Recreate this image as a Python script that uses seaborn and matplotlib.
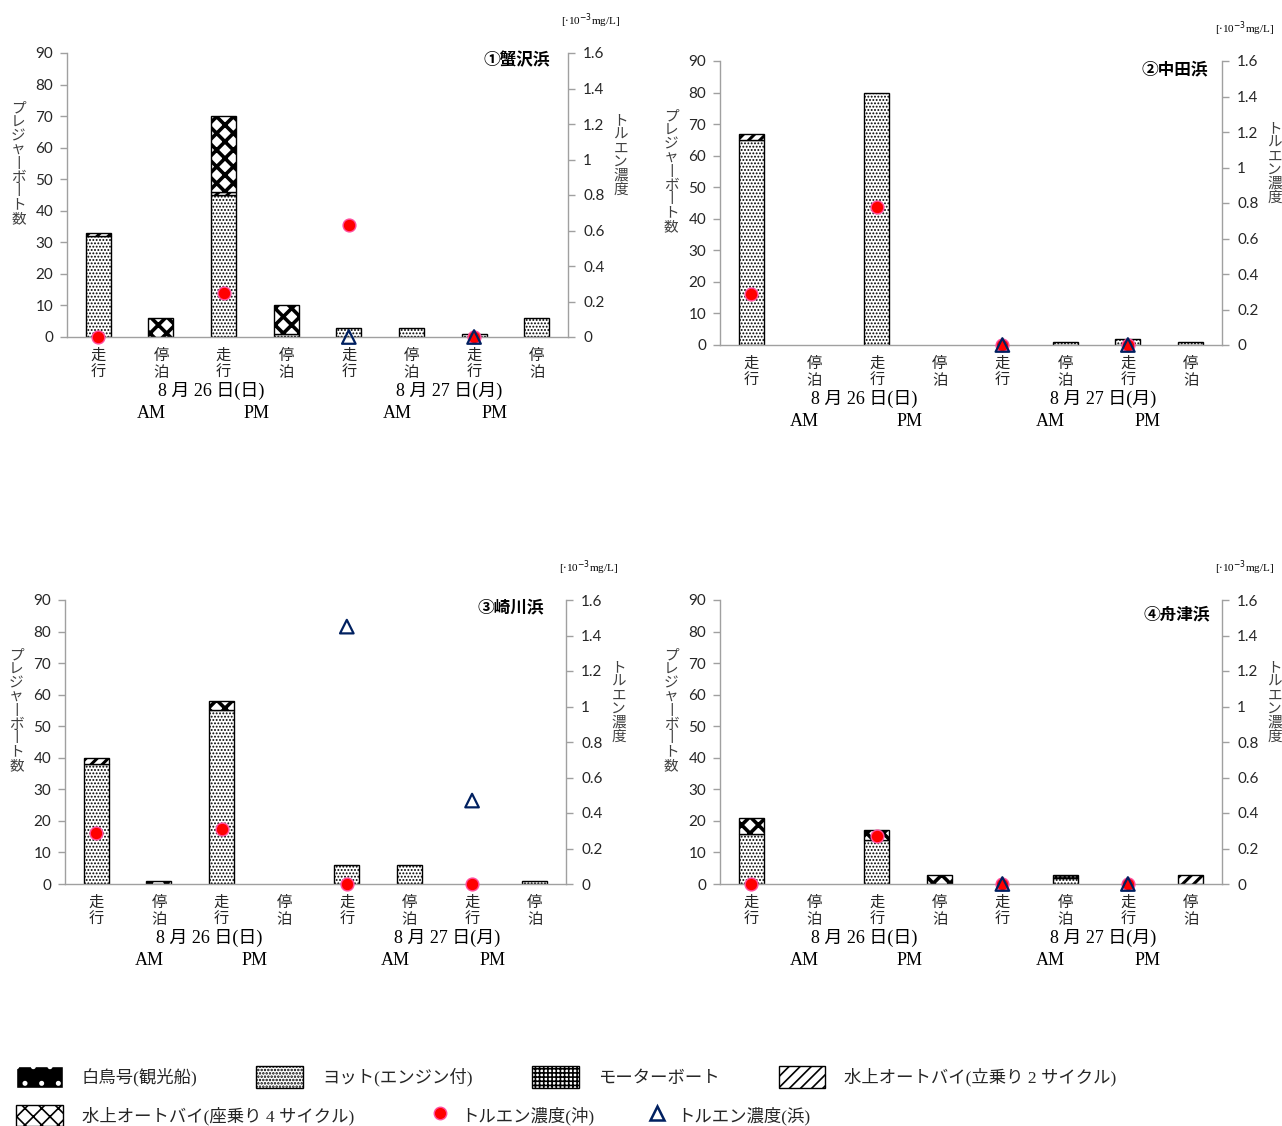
import numpy as np
import matplotlib
matplotlib.use("Agg")
import matplotlib.pyplot as plt
import matplotlib.patches as mpatches
from matplotlib.lines import Line2D
from matplotlib.transforms import blended_transform_factory
from matplotlib.ticker import FuncFormatter
import seaborn as sns

nan = np.nan

# ---------------- data ----------------
PANELS = ["①蟹沢浜", "②中田浜", "③崎川浜", "④舟津浜"]
POS = [0, 1, 2, 3, 4, 5, 6, 7]
XLABELS = ["走\n行", "停\n泊", "走\n行", "停\n泊", "走\n行", "停\n泊", "走\n行", "停\n泊"]
DATES = ["8 月 26 日(日)", "8 月 27 日(月)"]
HALVES = ["AM", "PM", "AM", "PM"]
SERIES = ["白鳥号(観光船)", "ヨット(エンジン付)", "モーターボート",
          "水上オートバイ(立乗り 2 サイクル)", "水上オートバイ(座乗り 4 サイクル)"]
TOL_NAMES = ["トルエン濃度(沖)", "トルエン濃度(浜)"]

HAKUCHO = [[0, 0, 0, 0, 0, 0, 0, 0],
           [0, 0, 0, 0, 0, 0, 0, 0],
           [0, 0, 0, 0, 0, 0, 0, 0],
           [0, 0, 0, 0, 0, 0, 0, 0]]
YACHT = [[32, 0, 45, 1, 3, 3, 1, 6],
         [65, 0, 80, 0, 0, 1, 2, 1],
         [38, 0, 55, 0, 6, 6, 0, 1],
         [16, 0, 14, 0, 0, 2, 0, 0]]
MOTOR = [[0, 0, 0, 0, 0, 0, 0, 0],
         [0, 0, 0, 0, 0, 0, 0, 0],
         [0, 0, 0, 0, 0, 0, 0, 0],
         [0, 0, 0, 0, 0, 1, 0, 0]]
JET2 = [[1, 0, 1, 0, 0, 0, 0, 0],
        [2, 0, 0, 0, 0, 0, 0, 0],
        [2, 0, 0, 0, 0, 0, 0, 0],
        [0, 0, 0, 0, 0, 0, 0, 3]]
JET4 = [[0, 6, 24, 9, 0, 0, 0, 0],
        [0, 0, 0, 0, 0, 0, 0, 0],
        [0, 1, 3, 0, 0, 0, 0, 0],
        [5, 0, 3, 3, 0, 0, 0, 0]]

TOL_OKI = [[0.0, nan, 0.25, nan, 0.63, nan, 0.0, nan],
           [0.29, nan, 0.78, nan, 0.0, nan, 0.0, nan],
           [0.29, nan, 0.31, nan, 0.0, nan, 0.0, nan],
           [0.0, nan, 0.27, nan, 0.0, nan, 0.0, nan]]
TOL_HAMA = [[nan, nan, nan, nan, 0.0, nan, 0.0, nan],
            [nan, nan, nan, nan, 0.0, nan, 0.0, nan],
            [nan, nan, nan, nan, 1.45, nan, 0.47, nan],
            [nan, nan, nan, nan, 0.0, nan, 0.0, nan]]

LEFT_TICKS = [0, 10, 20, 30, 40, 50, 60, 70, 80, 90]
RIGHT_TICKS = [0, 0.2, 0.4, 0.6, 0.8, 1.0, 1.2, 1.4, 1.6]

# ---------------- style ----------------
sns.set_style("white")
plt.rcParams["font.family"] = ["Noto Sans CJK JP", "DejaVu Sans"]
plt.rcParams["hatch.linewidth"] = 1.2
SANS_NUM = ["Lato", "Noto Sans CJK JP"]
SERIF = ["Liberation Serif", "Noto Sans CJK JP"]
GRAY = "#a0a0a0"
TXT = "#262626"

FACES = ["black", "white", "white", "white", "white"]
EDGES = ["white", "black", "black", "black", "black"]
HATCHES = [".", ".....", "++++", "///", "xx"]
HATCH_LW = [0.8, 0.9, 1.0, 2.2, 2.6]

RECTS = [[67 / 1282, 1 - 337 / 1126, 501 / 1282, 284 / 1126],
         [720 / 1282, 1 - 345 / 1126, 502 / 1282, 284 / 1126],
         [65 / 1282, 1 - 884 / 1126, 501 / 1282, 284 / 1126],
         [720 / 1282, 1 - 884 / 1126, 502 / 1282, 284 / 1126]]
TITLE_POS = [(0.964, 0.975), (0.972, 0.972), (0.956, 0.975), (0.976, 0.951)]


def set_hlw(patch, lw):
    if hasattr(patch, "set_hatch_linewidth"):
        patch.set_hatch_linewidth(lw)


fig = plt.figure(figsize=(12.82, 11.26), dpi=100)

for i in range(4):
    ax = fig.add_axes(RECTS[i])
    series_vals = [HAKUCHO[i], YACHT[i], MOTOR[i], JET2[i], JET4[i]]
    bottom = np.zeros(len(POS))
    for s, vals in enumerate(series_vals):
        n_before = len(ax.patches)
        sns.barplot(x=POS, y=vals, ax=ax, bottom=bottom.copy(), color=FACES[s],
                    saturation=1, width=0.4, edgecolor=EDGES[s], linewidth=1.0,
                    hatch=HATCHES[s], errorbar=None)
        for p in ax.patches[n_before:]:
            set_hlw(p, HATCH_LW[s])
        bottom += np.asarray(vals, dtype=float)
    for p in ax.patches:
        if p.get_height() == 0:
            p.set_visible(False)

    ax.set_ylim(0, 90)
    ax.set_xlim(-0.5, 7.5)
    ax.set_yticks(LEFT_TICKS)
    ax.set_xticks(POS)
    ax.set_xticklabels(XLABELS, fontsize=11, linespacing=1.0, color=TXT)
    ax.set_xticks([p - 0.5 for p in POS] + [7.5], minor=True)
    ax.tick_params(axis="x", which="major", length=0, pad=7)
    ax.tick_params(axis="x", which="minor", length=5, color=GRAY, width=1, direction="out")
    ax.tick_params(axis="y", length=5, color=GRAY, width=1, direction="out", pad=5,
                   labelsize=11, labelcolor=TXT)
    for lab in ax.get_yticklabels():
        lab.set_family(SANS_NUM)
    ax.set_xlabel("")
    ax.set_ylabel("")
    for side in ["top", "right"]:
        ax.spines[side].set_visible(False)
    for side in ["left", "bottom"]:
        ax.spines[side].set_color(GRAY)
        ax.spines[side].set_linewidth(1)

    # right axis: toluene
    ax2 = ax.twinx()
    oki_x = [p for p, v in zip(POS, TOL_OKI[i]) if not np.isnan(v)]
    oki_y = [v for v in TOL_OKI[i] if not np.isnan(v)]
    sns.scatterplot(x=oki_x, y=oki_y, ax=ax2, marker="o", s=85, color="#ff0000",
                    edgecolor="#ff4fa0", linewidth=1.0, zorder=5, clip_on=False, legend=False)
    ham_x = [p for p, v in zip(POS, TOL_HAMA[i]) if not np.isnan(v)]
    ham_y = [v for v in TOL_HAMA[i] if not np.isnan(v)]
    sns.scatterplot(x=ham_x, y=ham_y, ax=ax2, marker="^", s=95, color="#002060",
                    facecolor="none", edgecolor="#002060", linewidth=1.6, zorder=6,
                    clip_on=False, legend=False)
    ax2.collections[-1].set_facecolor("none")
    ax2.collections[-1].set_edgecolor("#002060")
    ax2.set_ylim(0, 1.6)
    ax2.set_xlim(-0.5, 7.5)
    ax2.set_yticks(RIGHT_TICKS)
    ax2.yaxis.set_major_formatter(FuncFormatter(lambda v, _: f"{v:g}"))
    ax2.tick_params(axis="y", length=5, color=GRAY, width=1, direction="out", pad=6,
                    labelsize=11, labelcolor=TXT)
    for lab in ax2.get_yticklabels():
        lab.set_family(SANS_NUM)
    ax2.set_xlabel("")
    ax2.set_ylabel("")
    for side in ["top", "left", "bottom"]:
        ax2.spines[side].set_visible(False)
    ax2.spines["right"].set_color(GRAY)
    ax2.spines["right"].set_linewidth(1)

    # texts
    tx, ty = TITLE_POS[i]
    ax.text(tx, ty, PANELS[i], transform=ax.transAxes, ha="right", va="center",
            fontsize=12, fontweight="bold", color="black")
    ax.text(-0.097, 0.61, "\n".join("プレジャ丨ボ丨ト数"), transform=ax.transAxes,
            ha="center", va="center", fontsize=10.5, linespacing=0.98, color="#404040")
    ax.text(1.105, 0.64, "\n".join("トルエン濃度"), transform=ax.transAxes,
            ha="center", va="center", fontsize=10.5, linespacing=0.98, color="#404040")
    ax.text(1.045, 1.115, r"[$\cdot$10$^{-3}$mg/L]", transform=ax.transAxes,
            ha="center", va="center", fontsize=8, family=SERIF, color="black")
    trans = blended_transform_factory(ax.transData, ax.transAxes)
    ax.text(1.8, -0.19, DATES[0], transform=trans, ha="center", va="center",
            fontsize=13, family=SERIF, color="black")
    ax.text(5.6, -0.19, DATES[1], transform=trans, ha="center", va="center",
            fontsize=13, family=SERIF, color="black")
    for xh, lab in zip([0.84, 2.52, 4.77, 6.32], HALVES):
        ax.text(xh, -0.268, lab, transform=trans, ha="center", va="center",
                fontsize=13, family=SERIF, color="black")

# ---------------- legend ----------------
h_bars = [mpatches.Patch(facecolor=FACES[s], edgecolor=EDGES[s], hatch=HATCHES[s],
                         linewidth=1.0, label=SERIES[s]) for s in range(5)]
for s in range(5):
    set_hlw(h_bars[s], HATCH_LW[s])
h_oki = Line2D([], [], ls="", marker="o", markersize=9, markerfacecolor="#ff0000",
               markeredgecolor="#ff4fa0", label=TOL_NAMES[0])
h_ham = Line2D([], [], ls="", marker="^", markersize=10, markerfacecolor="none",
               markeredgecolor="#002060", markeredgewidth=1.8, label=TOL_NAMES[1])
leg_font = {"family": SERIF, "size": 12.5}
leg1 = fig.legend(handles=h_bars[:4], loc="center left", bbox_to_anchor=(0.0, 0.0435),
                  ncol=4, frameon=False, prop=leg_font, handlelength=2.7, handleheight=1.5,
                  handletextpad=1.1, columnspacing=3.4)
leg2 = fig.legend(handles=[h_bars[4]], loc="center left",
                  bbox_to_anchor=(0.0, 0.009), ncol=1, frameon=False, prop=leg_font,
                  handlelength=2.7, handleheight=1.5, handletextpad=1.1)
leg3 = fig.legend(handles=[h_oki, h_ham], loc="center left",
                  bbox_to_anchor=(0.323, 0.009), ncol=2, frameon=False, prop=leg_font,
                  handlelength=1.2, handleheight=1.5, handletextpad=0.6, columnspacing=3.0)
for lg in (leg1, leg2, leg3):
    for t in lg.get_texts():
        t.set_color(TXT)

fig.savefig("out.png", dpi=100)
